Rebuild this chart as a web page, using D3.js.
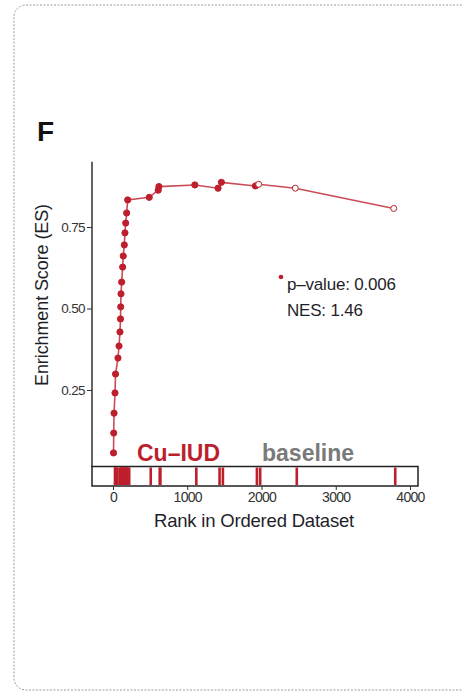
<!DOCTYPE html>
<html>
<head>
  <meta charset="utf-8">
  <title>GSEA enrichment plot F</title>
  <style>
  body { margin: 0; background: #fff; }
  svg { font-family: "Liberation Sans", Arial, sans-serif; }
  .tick text { fill: #333; }
  </style>
</head>
<body>
  <svg width="463" height="692"></svg>
  <script src="https://d3js.org/d3.v7.min.js"></script>
  <script>
  // data
  var ranks = [7, 10, 14, 27, 34, 67, 81, 94, 101, 104, 108, 117, 130, 138, 152, 161, 171, 184, 198,
               488, 609, 618, 1102, 1415, 1460, 1918, 1962, 2455, 3781];
  var es = [0.057, 0.118, 0.179, 0.241, 0.299, 0.348, 0.385, 0.428, 0.468, 0.505, 0.545, 0.581,
            0.627, 0.661, 0.695, 0.732, 0.762, 0.793, 0.833,
            0.841, 0.863, 0.874, 0.879, 0.869, 0.887, 0.876, 0.881, 0.869, 0.807];
  var leading = [1, 1, 1, 1, 1, 1, 1, 1, 1, 1, 1, 1, 1, 1, 1, 1, 1, 1, 1,
                 1, 1, 1, 1, 1, 1, 1, 0, 0, 0];
  var xTicks = [0, 1000, 2000, 3000, 4000];
  var yTicks = [0.25, 0.50, 0.75];

  var red = "#bd1f2d";
  var ink = "#1f1f2a";
  var svg = d3.select("svg");

  // dotted frame
  svg.append("rect")
    .attr("x", 14).attr("y", 5).attr("width", 470).attr("height", 685)
    .attr("rx", 12)
    .attr("fill", "none").attr("stroke", "#9a9a9a")
    .attr("stroke-width", 1).attr("stroke-dasharray", "2,1.5");

  svg.append("text")
    .attr("x", 37).attr("y", 141)
    .attr("font-size", 28).attr("font-weight", "bold")
    .attr("fill", "#111")
    .text("F");

  var x = d3.scaleLinear().domain([0, 4000]).range([113, 410]);
  var y = d3.scaleLinear().domain([0, 0.95]).range([471.5, 161.8]);

  var pts = ranks.map(function(r, i) { return { r: r, e: es[i], lead: leading[i] }; });

  // y axis
  var yAxis = d3.axisLeft(y).tickValues(yTicks).tickFormat(d3.format(".2f"))
    .tickSize(5).tickPadding(2).tickSizeOuter(0);
  var gy = svg.append("g").attr("transform", "translate(92,0)").call(yAxis);
  gy.select(".domain").attr("d", "M0," + y(0.95) + "V467").attr("stroke", "#222").attr("stroke-width", 1.4);
  gy.selectAll(".tick line").attr("stroke", "#333");
  gy.selectAll(".tick text").attr("font-size", 13.5).attr("letter-spacing", "-0.6");

  svg.append("text")
    .attr("transform", "translate(48,295) rotate(-90)")
    .attr("text-anchor", "middle")
    .attr("font-size", 18).attr("letter-spacing", "-0.1")
    .attr("fill", ink)
    .text("Enrichment Score (ES)");

  // running ES curve
  var line = d3.line().x(function(d) { return x(d.r); }).y(function(d) { return y(d.e); });
  svg.append("path")
    .datum(pts)
    .attr("d", line)
    .attr("fill", "none")
    .attr("stroke", red).attr("stroke-opacity", 0.8)
    .attr("stroke-width", 1.6);

  svg.selectAll(".pt")
    .data(pts)
    .enter()
    .append("circle")
    .attr("class", "pt")
    .attr("cx", function(d) { return x(d.r); })
    .attr("cy", function(d) { return y(d.e); })
    .attr("r", function(d) { return d.lead ? 3.1 : 3; })
    .attr("fill", function(d) { return d.lead ? red : "#fff"; })
    .attr("stroke", red).attr("stroke-width", 1);

  // stats
  svg.append("circle").attr("cx", 281).attr("cy", 277).attr("r", 2.3).attr("fill", red);
  svg.append("text").attr("x", 287).attr("y", 290)
    .attr("font-size", 17).attr("letter-spacing", "-0.2").attr("fill", ink)
    .text("p\u2013value: 0.006");
  svg.append("text").attr("x", 287).attr("y", 316)
    .attr("font-size", 17).attr("letter-spacing", "-0.2").attr("fill", ink)
    .text("NES: 1.46");

  // group labels
  svg.append("text").attr("x", 137).attr("y", 461)
    .attr("font-size", 23).attr("font-weight", "bold").attr("fill", red)
    .text("Cu\u2013IUD");
  svg.append("text").attr("x", 262).attr("y", 461)
    .attr("font-size", 23).attr("font-weight", "bold").attr("fill", "#7a7a7a")
    .text("baseline");

  // rug box
  var boxTop = 466.5, boxBot = 486;
  svg.append("rect")
    .attr("x", 92).attr("y", boxTop).attr("width", 326).attr("height", boxBot - boxTop)
    .attr("fill", "#fff").attr("stroke", "#222").attr("stroke-width", 1.5);
  svg.selectAll(".rug")
    .data(ranks)
    .enter()
    .append("line")
    .attr("class", "rug")
    .attr("x1", function(d) { return x(d) + 1.5; }).attr("x2", function(d) { return x(d) + 1.5; })
    .attr("y1", boxTop + 1).attr("y2", boxBot - 1)
    .attr("stroke", red).attr("stroke-width", 2.6);

  // x axis
  var xAxis = d3.axisBottom(x).tickValues(xTicks).tickFormat(d3.format("d"))
    .tickSize(4).tickPadding(2).tickSizeOuter(0);
  var gx = svg.append("g").attr("transform", "translate(0," + boxBot + ")").call(xAxis);
  gx.select(".domain").remove();
  gx.selectAll(".tick line").attr("stroke", "#333");
  gx.selectAll(".tick text").attr("font-size", 14).attr("letter-spacing", "-0.7");

  svg.append("text")
    .attr("x", 254).attr("y", 527)
    .attr("text-anchor", "middle")
    .attr("font-size", 18.5).attr("letter-spacing", "-0.2").attr("fill", ink)
    .text("Rank in Ordered Dataset");
  </script>
</body>
</html>
